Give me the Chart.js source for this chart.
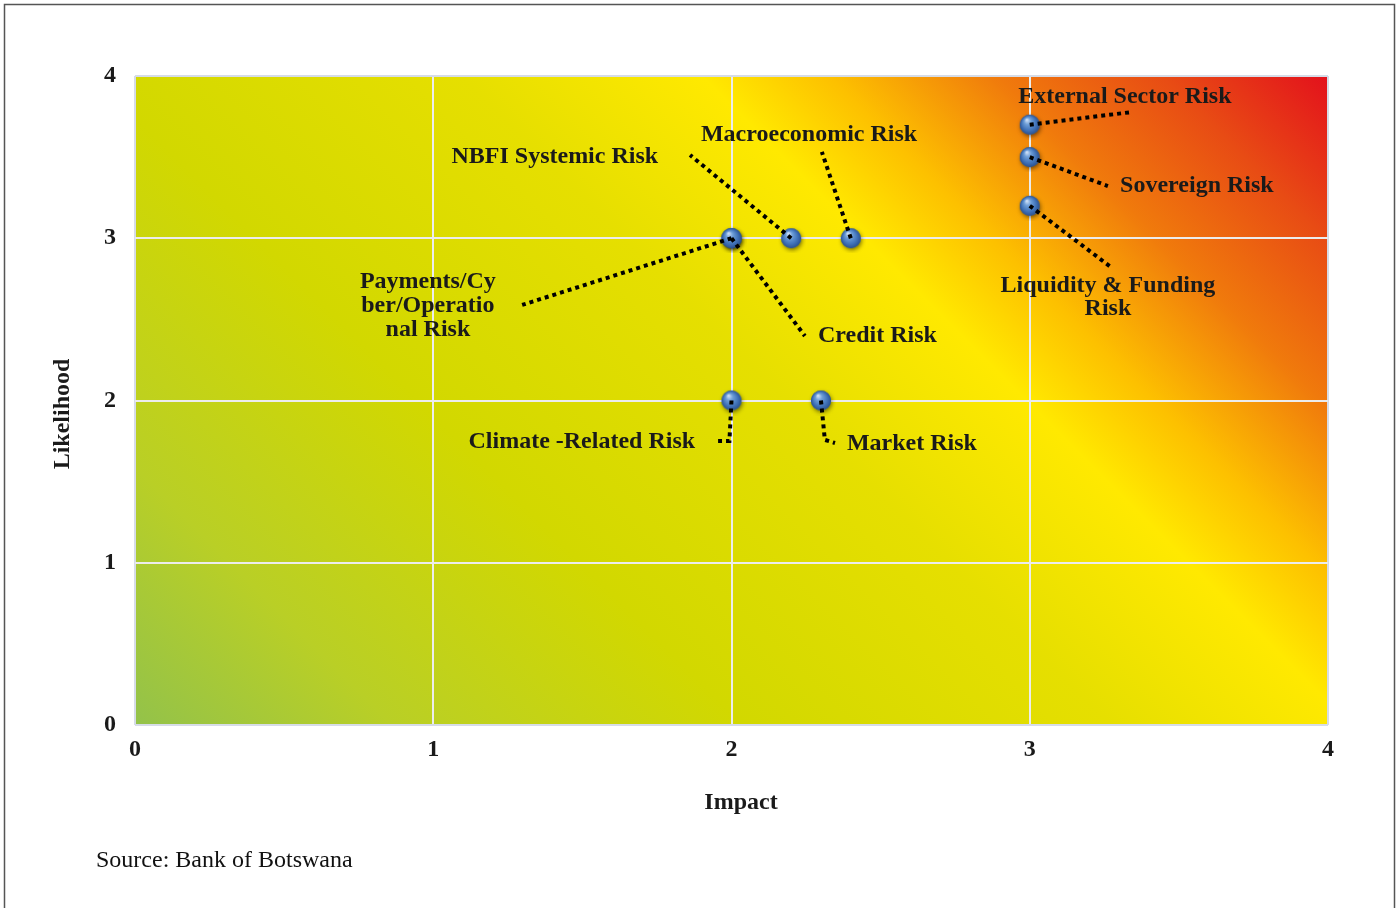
<!DOCTYPE html>
<html>
<head>
<meta charset="utf-8">
<script src="https://cdn.jsdelivr.net/npm/chart.js@4.4.1/dist/chart.umd.min.js"></script>
<style>
  html, body { margin: 0; padding: 0; background: #ffffff; }
  #wrap { position: relative; width: 1399px; height: 908px; }
  canvas { display: block; }
</style>
</head>
<body>
<div id="wrap"><canvas id="c" width="1399" height="908"></canvas></div>
<script>
// ---- data ----
const riskNames = [
  "External Sector Risk", "Sovereign Risk", "Liquidity & Funding Risk",
  "Macroeconomic Risk", "NBFI Systemic Risk", "Payments/Cyber/Operational Risk",
  "Credit Risk", "Climate -Related Risk", "Market Risk"
];
const impactValues     = [3, 3, 3, 2.4, 2.2, 2, 2, 2, 2.3];
const likelihoodValues = [3.7, 3.5, 3.2, 3, 3, 3, 3, 2, 2];
const tickValues = [0, 1, 2, 3, 4];
const xTitle = "Impact";
const yTitle = "Likelihood";
const sourceText = "Source: Bank of Botswana";

// ---- label layout (data units) ----
const labelLayout = [
  { lines: ["External Sector Risk"], x: 3.319, y: [3.883], align: "center", path: [[3.343, 3.778]] },
  { lines: ["Sovereign Risk"], x: 3.303, y: [3.334], align: "left", path: [[3.262, 3.322]] },
  { lines: ["Liquidity & Funding", "Risk"], x: 3.262, y: [2.718, 2.576], align: "center", path: [[3.276, 2.817]] },
  { lines: ["Macroeconomic Risk"], x: 2.260, y: [3.649], align: "center", path: [[2.303, 3.532]] },
  { lines: ["NBFI Systemic Risk"], x: 1.754, y: [3.513], align: "right", path: [[1.861, 3.513]] },
  { lines: ["Payments/Cy", "ber/Operatio", "nal Risk"], x: 0.982, y: [2.743, 2.595, 2.447], align: "center", path: [[1.298, 2.589]] },
  { lines: ["Credit Risk"], x: 2.290, y: [2.410], align: "left", path: [[2.246, 2.398]] },
  { lines: ["Climate -Related Risk"], x: 1.878, y: [1.757], align: "right", path: [[1.993, 1.750], [1.955, 1.750]] },
  { lines: ["Market Risk"], x: 2.387, y: [1.744], align: "left", path: [[2.313, 1.757], [2.347, 1.738]] }
];

const points = impactValues.map((v, i) => ({ x: v, y: likelihoodValues[i] }));

// sphere marker image
function makeSphere() {
  const s = 30, c = document.createElement('canvas');
  c.width = s; c.height = s;
  const g = c.getContext('2d');
  const cx = s / 2, cy = s / 2, r = 10;
  g.save();
  g.shadowColor = 'rgba(0,0,0,0.5)';
  g.shadowBlur = 4; g.shadowOffsetX = 1; g.shadowOffsetY = 2;
  g.beginPath(); g.arc(cx, cy, r, 0, Math.PI * 2);
  g.fillStyle = '#2f5f9f'; g.fill();
  g.restore();
  const rg = g.createRadialGradient(cx - 3, cy - 5, 0.5, cx, cy, r);
  rg.addColorStop(0, '#cfe0f7');
  rg.addColorStop(0.3, '#6f9fd8');
  rg.addColorStop(0.7, '#4274ba');
  rg.addColorStop(1, '#2a5190');
  g.beginPath(); g.arc(cx, cy, r, 0, Math.PI * 2);
  g.fillStyle = rg; g.fill();
  return c;
}
const sphere = makeSphere();

const SERIF = '"Liberation Serif", "Times New Roman", serif';
const FS = 24;

const framePlugin = {
  id: 'frame',
  beforeDraw(chart) {
    const ctx = chart.ctx, a = chart.chartArea;
    ctx.save();
    ctx.fillStyle = '#ffffff';
    ctx.fillRect(0, 0, chart.width, chart.height);
    ctx.strokeStyle = '#555555';
    ctx.lineWidth = 1.5;
    ctx.strokeRect(4.5, 4.5, 1390, 960);
    // gradient plot background
    const d = ((a.right - a.left) + (a.bottom - a.top)) / 2;
    const grd = ctx.createLinearGradient(a.left, a.bottom, a.left + d, a.bottom - d);
    grd.addColorStop(0.00, '#93c24a');
    grd.addColorStop(0.14, '#b9cf26');
    grd.addColorStop(0.33, '#d2d800');
    grd.addColorStop(0.53, '#e6df00');
    grd.addColorStop(0.66, '#ffe900');
    grd.addColorStop(0.73, '#fdc000');
    grd.addColorStop(0.82, '#f07a0c');
    grd.addColorStop(0.91, '#e84c14');
    grd.addColorStop(1.00, '#e3111c');
    ctx.fillStyle = grd;
    ctx.fillRect(a.left, a.top, a.right - a.left, a.bottom - a.top);
    ctx.restore();
  },
  afterDatasetsDraw(chart) {
    const ctx = chart.ctx;
    const xs = chart.scales.x, ys = chart.scales.y;
    ctx.save();
    // leader lines
    ctx.strokeStyle = '#000000';
    ctx.lineWidth = 4;
    ctx.setLineDash([4, 4]);
    ctx.lineCap = 'butt';
    labelLayout.forEach((lab, i) => {
      ctx.beginPath();
      ctx.moveTo(xs.getPixelForValue(impactValues[i]), ys.getPixelForValue(likelihoodValues[i]));
      lab.path.forEach(p => ctx.lineTo(xs.getPixelForValue(p[0]), ys.getPixelForValue(p[1])));
      ctx.stroke();
    });
    ctx.setLineDash([]);
    // labels
    ctx.fillStyle = '#1a1a1a';
    ctx.font = 'bold ' + FS + 'px ' + SERIF;
    ctx.textBaseline = 'middle';
    labelLayout.forEach(lab => {
      ctx.textAlign = lab.align;
      lab.lines.forEach((t, k) => {
        ctx.fillText(t, xs.getPixelForValue(lab.x), ys.getPixelForValue(lab.y[k]) + 1.5);
      });
    });
    // axis titles
    ctx.textAlign = 'center';
    ctx.fillText(xTitle, 741, 803);
    ctx.save();
    ctx.translate(63, 414);
    ctx.rotate(-Math.PI / 2);
    ctx.fillText(yTitle, 0, 0);
    ctx.restore();
    // source
    ctx.font = FS + 'px ' + SERIF;
    ctx.textAlign = 'left';
    ctx.fillStyle = '#111111';
    ctx.fillText(sourceText, 96, 861);
    ctx.restore();
  }
};

const gridColor = (ctx) => (ctx.tick && (ctx.tick.value === 0 || ctx.tick.value === 4)) ? '#d6dce7' : '#ececec';

new Chart(document.getElementById('c'), {
  type: 'scatter',
  data: {
    datasets: [{
      label: 'Risks',
      data: points,
      pointStyle: sphere,
      pointRadius: 10,
      pointHoverRadius: 10
    }]
  },
  options: {
    responsive: false,
    animation: false,
    events: [],
    layout: { padding: { left: 38, right: 71, top: 76, bottom: 83 } },
    plugins: { legend: { display: false }, tooltip: { enabled: false } },
    scales: {
      x: {
        type: 'linear', min: 0, max: 4,
        afterBuildTicks: (s) => { s.ticks = tickValues.map(v => ({ value: v })); },
        afterFit: (s) => { s.height = 100; },
        grid: { color: gridColor, lineWidth: 2, drawTicks: false },
        border: { display: false },
        ticks: { padding: 10, color: '#1a1a1a', font: { family: SERIF, size: FS, weight: 'bold' } },
        title: { display: false }
      },
      y: {
        type: 'linear', min: 0, max: 4,
        afterBuildTicks: (s) => { s.ticks = tickValues.map(v => ({ value: v })); },
        afterFit: (s) => { s.width = 97; },
        grid: { color: gridColor, lineWidth: 2, drawTicks: false },
        border: { display: false },
        ticks: { padding: 19, color: '#1a1a1a', font: { family: SERIF, size: FS, weight: 'bold' } },
        title: { display: false }
      }
    }
  },
  plugins: [framePlugin]
});
</script>
</body>
</html>
